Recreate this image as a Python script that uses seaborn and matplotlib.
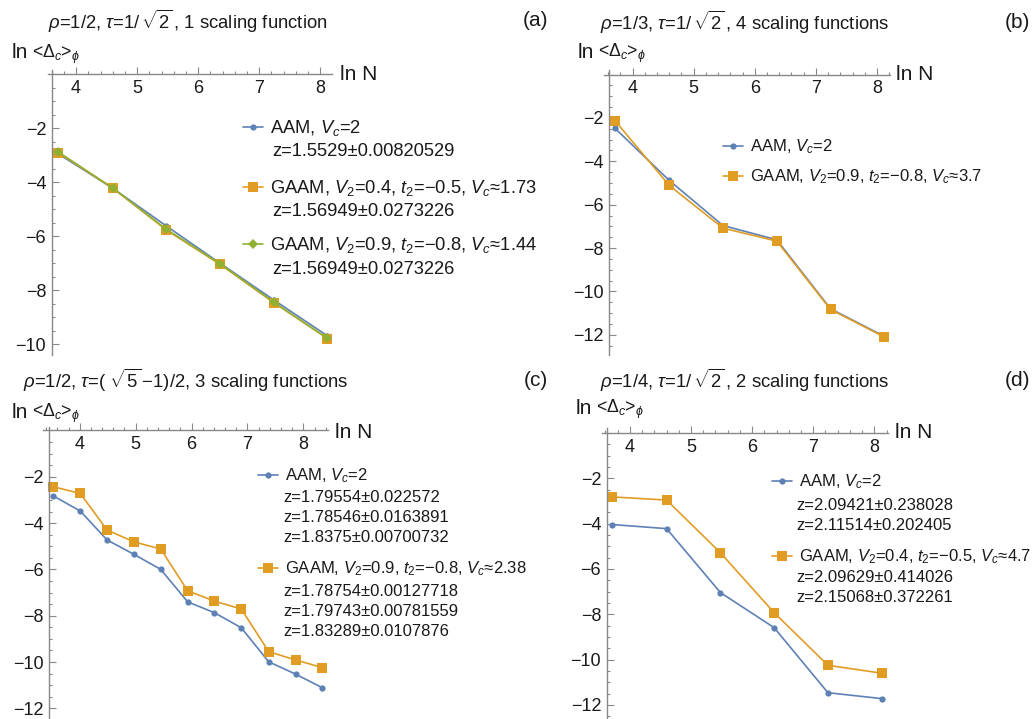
import numpy as np
import pandas as pd
import matplotlib
matplotlib.use("Agg")
import matplotlib.pyplot as plt
from matplotlib.ticker import MultipleLocator, FixedLocator
import seaborn as sns

# ---------------- data ----------------
x_pell = [3.71, 4.60, 5.48, 6.36, 7.24, 8.12]
x_fib = [3.53, 4.01, 4.49, 4.97, 5.45, 5.93, 6.41, 6.89, 7.38, 7.86, 8.34]

a_aam = [-2.95, -4.22, -5.62, -7.00, -8.36, -9.69]
a_gaam1 = [-2.90, -4.22, -5.77, -7.04, -8.46, -9.79]
a_gaam2 = [-2.88, -4.21, -5.74, -7.02, -8.44, -9.78]

b_aam = [-2.47, -4.88, -6.96, -7.62, -10.80, -12.07]
b_gaam = [-2.12, -5.11, -7.08, -7.68, -10.83, -12.10]

c_aam = [-2.83, -3.48, -4.73, -5.35, -6.00, -7.40, -7.87, -8.52, -9.99, -10.52, -11.11]
c_gaam = [-2.43, -2.72, -4.30, -4.81, -5.12, -6.92, -7.37, -7.71, -9.55, -9.91, -10.24]

d_aam = [-4.04, -4.22, -7.04, -8.59, -11.46, -11.72]
d_gaam = [-2.82, -2.96, -5.28, -7.93, -10.25, -10.60]

titles = [r'$\rho$=1/2, $\tau$=1/$\,\sqrt{2}\,$, 1 scaling function',
          r'$\rho$=1/3, $\tau$=1/$\,\sqrt{2}\,$, 4 scaling functions',
          r'$\rho$=1/2, $\tau$=( $\sqrt{5}\,$$-$1)/2, 3 scaling functions',
          r'$\rho$=1/4, $\tau$=1/$\,\sqrt{2}\,$, 2 scaling functions']
panel_tags = ['(a)', '(b)', '(c)', '(d)']

lab_aam = r'AAM, $V_c$=2'
lab_a1 = r'GAAM, $V_2$=0.4, $t_2$=−0.5, $V_c$≈1.73'
lab_a2 = r'GAAM, $V_2$=0.9, $t_2$=−0.8, $V_c$≈1.44'
lab_b = r'GAAM, $V_2$=0.9, $t_2$=−0.8, $V_c$≈3.7'
lab_c = r'GAAM, $V_2$=0.9, $t_2$=−0.8, $V_c$≈2.38'
lab_d = r'GAAM, $V_2$=0.4, $t_2$=−0.5, $V_c$≈4.7'

z_a_aam = ['z=1.5529±0.00820529']
z_a_1 = ['z=1.56949±0.0273226']
z_a_2 = ['z=1.56949±0.0273226']
z_c_aam = ['z=1.79554±0.022572', 'z=1.78546±0.0163891', 'z=1.8375±0.00700732']
z_c_g = ['z=1.78754±0.00127718', 'z=1.79743±0.00781559', 'z=1.83289±0.0107876']
z_d_aam = ['z=2.09421±0.238028', 'z=2.11514±0.202405']
z_d_g = ['z=2.09629±0.414026', 'z=2.15068±0.372261']

# ---------------- style ----------------
sns.set_style("white")
plt.rcParams['font.family'] = ['Liberation Sans', 'DejaVu Sans']
plt.rcParams['mathtext.fontset'] = 'custom'
plt.rcParams['mathtext.rm'] = 'Liberation Sans'
plt.rcParams['mathtext.it'] = 'Liberation Sans:italic'
plt.rcParams['mathtext.bf'] = 'Liberation Sans:bold'
plt.rcParams['mathtext.sf'] = 'Liberation Sans'

BLUE = '#5E81B5'
ORANGE = '#E19C24'
GREEN = '#8FB032'
AXC = '#888888'
TXT = '#1a1a1a'
FS = 13

W, H = 1034, 719
fig = plt.figure(figsize=(W / 100, H / 100), dpi=100)
fig.patch.set_facecolor('white')


def rect(l, t, r, b):
    return [l / W, 1 - b / H, (r - l) / W, (b - t) / H]


def fx(x):
    return x / W


def fy(y):
    return 1 - y / H


def make_axes(r, xlim, ylim, x0, yticks):
    ax = fig.add_axes(rect(*r))
    ax.set_facecolor('none')
    ax.set_xlim(*xlim)
    ax.set_ylim(*ylim)
    for s in ['top', 'right']:
        ax.spines[s].set_visible(False)
    ax.spines['bottom'].set_position(('data', 0))
    ax.spines['left'].set_position(('data', x0))
    for s in ['bottom', 'left']:
        ax.spines[s].set_color(AXC)
        ax.spines[s].set_linewidth(1.0)
    ax.xaxis.set_major_locator(FixedLocator([4, 5, 6, 7, 8]))
    ax.xaxis.set_minor_locator(MultipleLocator(0.2))
    ax.yaxis.set_major_locator(FixedLocator(yticks))
    ax.yaxis.set_minor_locator(MultipleLocator(0.5))
    ax.tick_params(which='both', direction='in', color=AXC, width=0.8,
                   labelsize=FS, labelcolor=TXT, bottom=True, left=True,
                   top=False, right=False)
    ax.tick_params(which='major', length=5, pad=4)
    ax.tick_params(which='minor', length=2.5)
    ax.set_xlabel('')
    ax.set_ylabel('')
    return ax


def series(ax, x, y, color, marker, ms):
    sns.lineplot(x=x, y=y, ax=ax, color=color, marker=marker, markersize=ms,
                 markeredgewidth=0, linewidth=1.2, errorbar=None, legend=False,
                 sort=False, clip_on=False)
    return ax.lines[-1]


def legend_entry(handle, label, hx, y, fs):
    fig.legend([handle], [label], loc='center left',
               bbox_to_anchor=(fx(hx), fy(y)), bbox_transform=fig.transFigure,
               frameon=False, borderpad=0, borderaxespad=0,
               handlelength=20 / (fs * 1.389), handletextpad=7 / (fs * 1.389),
               fontsize=fs, labelcolor=TXT)


def ztext(lines, tx, ys, fs):
    for s, y in zip(lines, ys):
        fig.text(fx(tx), fy(y), s, ha='left', va='center', fontsize=fs, color=TXT)


def decorate(title, tag, tpos, tagx, ylab_pos, lnN_pos):
    fig.text(fx(tpos[0]), fy(tpos[1]), title, ha='left', va='center', fontsize=FS + 0.3, color=TXT)
    fig.text(fx(tagx), fy(tpos[1]), tag, ha='center', va='center', fontsize=FS + 2, color=TXT)
    fig.text(fx(ylab_pos[0]), fy(ylab_pos[1]), 'ln', ha='left', va='center',
             fontsize=FS + 2, color=TXT)
    fig.text(fx(ylab_pos[0] + 20), fy(ylab_pos[1] + 1), r'<$\Delta_c$>$_\phi$', ha='left',
             va='center', fontsize=FS - 0.3, color=TXT)
    fig.text(fx(lnN_pos[0]), fy(lnN_pos[1]), 'ln N', ha='left', va='center',
             fontsize=FS + 2, color=TXT)


LFA = 13.2   # legend font in panel (a)
LFB = 12     # legend font in panels (b)-(d)

# ---------------- panel (a) ----------------
axa = make_axes((48, 70, 332, 355), (3.539, 8.195), (-10.40, 0.16), 3.60,
                [-2, -4, -6, -8, -10])
h1 = series(axa, x_pell, a_aam, BLUE, 'o', 4.5)
h2 = series(axa, x_pell, a_gaam1, ORANGE, 's', 6.5)
h3 = series(axa, x_pell, a_gaam2, GREEN, 'D', 5.5)
decorate(titles[0], panel_tags[0], (48, 21), 536, (12, 53), (340, 74))
legend_entry(h1, lab_aam, 243, 128, LFA)
ztext(z_a_aam, 272, [152], LFA)
legend_entry(h2, lab_a1, 243, 188, LFA)
ztext(z_a_1, 272, [211], LFA)
legend_entry(h3, lab_a2, 243, 245, LFA)
ztext(z_a_2, 272, [270], LFA)

# ---------------- panel (b) ----------------
axb = make_axes((604, 70, 890, 355), (3.533, 8.213), (-12.93, 0.21), 3.62,
                [-2, -4, -6, -8, -10, -12])
h1 = series(axb, x_pell, b_aam, BLUE, 'o', 4.5)
h2 = series(axb, x_pell, b_gaam, ORANGE, 's', 6.5)
decorate(titles[1], panel_tags[1], (600, 22), 1017, (578, 52), (896, 75))
legend_entry(h1, lab_aam, 723, 147, LFB)
legend_entry(h2, lab_b, 723, 177, LFB)

# ---------------- panel (c) ----------------
axc = make_axes((43, 427, 328, 719), (3.343, 8.441), (-12.46, 0.15), 3.45,
                [-2, -4, -6, -8, -10, -12])
h1 = series(axc, x_fib, c_aam, BLUE, 'o', 4.5)
h2 = series(axc, x_fib, c_gaam, ORANGE, 's', 6.5)
decorate(titles[2], panel_tags[2], (23, 380), 536, (12, 412), (335, 433))
legend_entry(h1, lab_aam, 258, 476, LFB)
ztext(z_c_aam, 283, [498, 518, 538], LFB)
legend_entry(h2, lab_c, 258, 569, LFB)
ztext(z_c_g, 283, [592, 612, 632], LFB)

# ---------------- panel (d) ----------------
axd = make_axes((602, 428, 888, 719), (3.543, 8.223), (-12.62, 0.22), 3.62,
                [-2, -4, -6, -8, -10, -12])
h1 = series(axd, x_pell, d_aam, BLUE, 'o', 4.5)
h2 = series(axd, x_pell, d_gaam, ORANGE, 's', 6.5)
decorate(titles[3], panel_tags[3], (600, 380), 1017, (576, 408), (895, 433))
legend_entry(h1, lab_aam, 772, 482, LFB)
ztext(z_d_aam, 796, [506, 526], LFB)
legend_entry(h2, lab_d, 772, 557, LFB)
ztext(z_d_g, 796, [578, 598], LFB)

fig.savefig('out.png', dpi=100, facecolor='white')
